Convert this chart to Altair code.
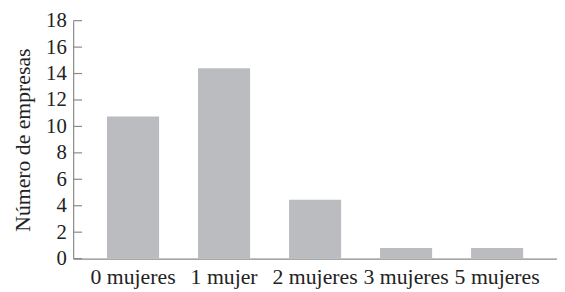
import altair as alt
import pandas as pd

categories = ["0 mujeres", "1 mujer", "2 mujeres", "3 mujeres", "5 mujeres"]
values = [10.75, 14.4, 4.45, 0.8, 0.8]
y_ticks = [0, 2, 4, 6, 8, 10, 12, 14, 16, 18]

df = pd.DataFrame({"cat": categories, "val": values})
tick_df = pd.DataFrame({"t": y_ticks})

AXIS = "#8a8a8a"
TEXT = "#222222"
FONT = "Liberation Serif"
FS = 22

yscale = alt.Scale(domain=[0, 18], nice=False)
yaxis = alt.Axis(values=y_ticks, ticks=False, grid=False, labelPadding=7,
                 labelOverlap=False, labelFlush=False,
                 domainColor=AXIS, domainWidth=1.2, labelFontSize=21, labelColor=TEXT,
                 labelFont=FONT, titleFont=FONT, titleFontSize=FS,
                 titleFontWeight="normal", titleColor=TEXT, titlePadding=11)

bars = alt.Chart(df).mark_bar(color="#BBBCBF").encode(
    x=alt.X("cat:N", sort=None, title=None,
            scale=alt.Scale(paddingInner=0.428, paddingOuter=0.372),
            axis=alt.Axis(ticks=False, labelAngle=0, labelPadding=8, domainColor=AXIS,
                          labelFontSize=FS, labelColor=TEXT, labelFont=FONT, domainWidth=1.2,
                          labelOverlap=False, labelFlush=False)),
    y=alt.Y("val:Q", title="Número de empresas", scale=yscale, axis=yaxis),
)

ticks = alt.Chart(tick_df).mark_rule(color=AXIS, strokeWidth=1.2).encode(
    y=alt.Y("t:Q", title="Número de empresas", scale=yscale, axis=yaxis),
    x=alt.value(0),
    x2=alt.value(9),
)

chart = alt.layer(bars, ticks).properties(
    width=490, height=241,
    autosize="none",
    padding={"left": 66, "top": 11, "right": 0, "bottom": 33},
).configure_view(stroke=None)

chart.save("out.html", embed_options={"renderer": "svg", "actions": False})
